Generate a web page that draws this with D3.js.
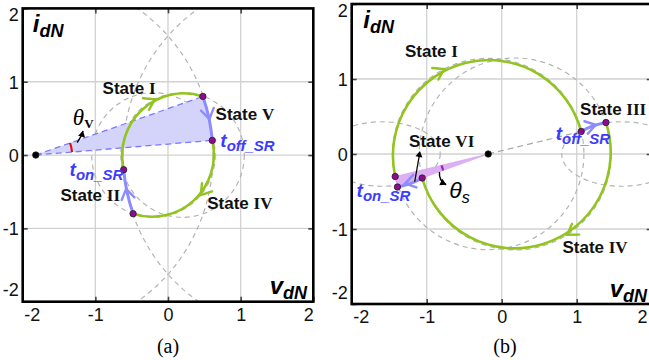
<!DOCTYPE html>
<html>
<head>
<meta charset="utf-8">
<script src="https://cdn.jsdelivr.net/npm/d3@7"></script>
<style>
  html, body { margin: 0; padding: 0; background: #fff; }
  svg { display: block; }
</style>
</head>
<body>
<svg id="fig" width="649" height="360"></svg>
<script>
// ---------- shared axis ticks ----------
const tickValues = [-2, -1, 0, 1, 2];

// ---------- panel (a): normalized state plane ----------
// guide circles: [cx, cy, rx, ry]
const aCircleI  = [0.2, 0, 0.85, 0.85];
const aCircleIV = [-0.2, 0, 0.85, 0.85];
const aCircleII = [1.82, 0, 2.44, 2.44];
const aCircleV  = [-1.82, 0, 2.44, 2.44];
// trajectory switching points
const aPole  = [-1.82, 0];
const aPtV   = [0.48, 0.80];   // State I -> State V
const aTOff  = [0.61, 0.20];   // t_off_SR
const aPtII  = [-0.48, -0.80]; // State IV -> State II
const aTOn   = [-0.61, -0.20]; // t_on_SR
const aThetaRadius = 0.5;

// ---------- panel (b) ----------
const bCircleI    = [-0.18, 0, 1.276, 1.276];
const bCircleIV   = [0.18, 0, 1.28, 1.28];
const bEllipseIII = [1.6, 0, 0.80, 0.43];
const bEllipseVI  = [-1.6, 0, 0.78, 0.43];
const bPole  = [-0.18, 0];
const bPtI   = [-1.42, -0.30]; // start of State I
const bTOff  = [1.06, 0.30];   // t_off_SR
const bPtIV  = [1.39, 0.42];   // State III -> State IV
const bPtVI  = [-1.06, -0.32]; // State IV -> State VI
const bTOn   = [-1.39, -0.44]; // t_on_SR
const bThetaRadius = 0.64;

// ---------- colours ----------
const GREEN = "#92c41f", BLUE_ARC = "#8c8cff", BLUE_TXT = "#3c3cff",
      DOT = "#8e0a8e", GUIDE = "#b4b4b4", GRID = "#d2d2d2";
const SANS = "'Liberation Sans', Arial, sans-serif";
const SERIF = "'Liberation Serif', 'Times New Roman', serif";

const svg = d3.select("#fig");
const defs = svg.append("defs");

const xA = d3.scaleLinear().domain([-2, 2]).range([22.7, 313.3]);
const yA = d3.scaleLinear().domain([-2, 2]).range([301.7, 8.4]);
const xB = d3.scaleLinear().domain([-2, 2]).range([351.7, 651.7]);
const yB = d3.scaleLinear().domain([-2, 2]).range([304, 4]);

function setupPanel(id, x, y) {
  const [left, right] = x.range();
  const [bottom, top] = y.range();
  defs.append("clipPath").attr("id", "clip-" + id)
    .append("rect").attr("x", left).attr("y", top)
    .attr("width", right - left).attr("height", bottom - top);

  const g = svg.append("g");
  const inner = tickValues.filter(v => Math.abs(v) < 2);
  const grid = g.append("g").attr("stroke", GRID).attr("stroke-width", 1.3);
  grid.selectAll("line.v").data(inner).join("line").attr("class", "v")
    .attr("x1", d => x(d)).attr("x2", d => x(d)).attr("y1", top).attr("y2", bottom);
  grid.selectAll("line.h").data(inner).join("line").attr("class", "h")
    .attr("y1", d => y(d)).attr("y2", d => y(d)).attr("x1", left).attr("x2", right);

  const plot = g.append("g").attr("clip-path", `url(#clip-${id})`);

  // inward ticks on all four sides
  const styleAxis = sel => {
    sel.select(".domain").remove();
    sel.selectAll(".tick line").attr("stroke", "#444").attr("stroke-width", 1.6);
  };
  const axB = g.append("g").attr("transform", `translate(0,${bottom})`)
    .call(d3.axisBottom(x).tickValues(tickValues).tickSize(-5).tickPadding(6)).call(styleAxis);
  const axL = g.append("g").attr("transform", `translate(${left},0)`)
    .call(d3.axisLeft(y).tickValues(tickValues).tickSize(-5).tickPadding(5)).call(styleAxis);
  g.append("g").attr("transform", `translate(0,${top})`)
    .call(d3.axisTop(x).tickValues(inner).tickSize(-5).tickFormat("")).call(styleAxis);
  g.append("g").attr("transform", `translate(${right},0)`)
    .call(d3.axisRight(y).tickValues(inner).tickSize(-5).tickFormat("")).call(styleAxis);

  const fmt = d => (d < 0 ? "-" : "") + Math.abs(d);
  axB.selectAll(".tick text").text(fmt)
    .attr("font-family", SANS).attr("font-size", 18).attr("fill", "#111")
    .attr("dy", null).attr("y", 19);
  axB.selectAll(".tick").filter(d => d === -2).select("text")
    .attr("text-anchor", "start").attr("x", 1);
  axB.selectAll(".tick").filter(d => d === 2).select("text")
    .attr("text-anchor", "end").attr("x", Math.min(0, 647 - x(2)));
  axL.selectAll(".tick text").text(fmt)
    .attr("font-family", SANS).attr("font-size", 18).attr("fill", "#111")
    .attr("dy", null).attr("y", 6.5).attr("x", -4);
  axL.selectAll(".tick").filter(d => d === 2).select("text").attr("y", 12);
  axL.selectAll(".tick").filter(d => d === -2).select("text").attr("y", -6);

  // frame
  g.append("rect").attr("x", left).attr("y", top)
    .attr("width", right - left).attr("height", bottom - top)
    .attr("fill", "none").attr("stroke", "#000").attr("stroke-width", 2.6);

  const labels = svg.append("g");
  return { x, y, plot, labels, kx: Math.abs(x(1) - x(0)), ky: Math.abs(y(1) - y(0)) };
}

// ---------- geometry helpers ----------
function angles(c, p0, p1) {
  const [cx, cy, rx, ry] = c;
  const t0 = Math.atan2((p0[1] - cy) / ry, (p0[0] - cx) / rx);
  let t1 = Math.atan2((p1[1] - cy) / ry, (p1[0] - cx) / rx);
  while (t1 > t0) t1 -= 2 * Math.PI;            // clockwise travel
  return [t0, t1];
}
function arcD(P, c, p0, p1) {
  const [t0, t1] = angles(c, p0, p1);
  const large = (t0 - t1) > Math.PI ? 1 : 0;
  return `M${P.x(p0[0])},${P.y(p0[1])} A${c[2] * P.kx},${c[3] * P.ky} 0 ${large} 1 ${P.x(p1[0])},${P.y(p1[1])}`;
}
function guide(P, c) {
  P.plot.append("ellipse")
    .attr("cx", P.x(c[0])).attr("cy", P.y(c[1]))
    .attr("rx", c[2] * P.kx).attr("ry", c[3] * P.ky)
    .attr("fill", "none").attr("stroke", GUIDE).attr("stroke-width", 1.2)
    .attr("stroke-dasharray", "5,4");
}
function trajectory(P, c, p0, p1, color, width, f) {
  P.plot.append("path").attr("d", arcD(P, c, p0, p1))
    .attr("fill", "none").attr("stroke", color).attr("stroke-width", width);
  const [t0, t1] = angles(c, p0, p1);
  const t = t0 + f * (t1 - t0);
  const [cx, cy, rx, ry] = c;
  const px = P.x(cx + rx * Math.cos(t)), py = P.y(cy + ry * Math.sin(t));
  const ang = Math.atan2(P.ky * ry * Math.cos(t), P.kx * rx * Math.sin(t)) * 180 / Math.PI;
  P.plot.append("path").attr("d", "M-9,-6.5 L1,0 L-9,6.5")
    .attr("transform", `translate(${px},${py}) rotate(${ang})`)
    .attr("fill", "none").attr("stroke", color).attr("stroke-width", 2.4)
    .attr("stroke-linecap", "round").attr("stroke-linejoin", "miter");
}
function dot(P, p, fill) {
  P.plot.append("circle").attr("cx", P.x(p[0])).attr("cy", P.y(p[1])).attr("r", 3.2)
    .attr("fill", fill || DOT).attr("stroke", "#222").attr("stroke-width", 0.8);
}
function thetaArc(P, pole, r, pa, pb, color) {
  const a0 = Math.atan2(pa[1] - pole[1], pa[0] - pole[0]);
  const a1 = Math.atan2(pb[1] - pole[1], pb[0] - pole[0]);
  const q0 = [pole[0] + r * Math.cos(a0), pole[1] + r * Math.sin(a0)];
  const q1 = [pole[0] + r * Math.cos(a1), pole[1] + r * Math.sin(a1)];
  P.plot.append("path")
    .attr("d", `M${P.x(q0[0])},${P.y(q0[1])} A${r * P.kx},${r * P.ky} 0 0 0 ${P.x(q1[0])},${P.y(q1[1])}`)
    .attr("fill", "none").attr("stroke", color).attr("stroke-width", 2.2);
}
function curvedArrow(P, from, ctrl, to, head) {
  const p = [from, ctrl, to].map(q => [P.x(q[0]), P.y(q[1])]);
  P.plot.append("path").attr("d", `M${p[0]} Q${p[1]} ${p[2]}`)
    .attr("fill", "none").attr("stroke", "#000").attr("stroke-width", 1.4);
  const ang = Math.atan2(p[2][1] - p[1][1], p[2][0] - p[1][0]) * 180 / Math.PI;
  P.plot.append("path").attr("d", `M0,0 L${-head},${-head * 0.6} L${-head},${head * 0.6} Z`)
    .attr("transform", `translate(${p[2]}) rotate(${ang})`).attr("fill", "#000");
}

// ---------- text helpers ----------
function stateLabel(P, pos, numeral) {
  const t = P.labels.append("text").attr("x", P.x(pos[0])).attr("y", P.y(pos[1]))
    .attr("font-size", 17).attr("font-weight", "bold").attr("fill", "#111");
  t.append("tspan").attr("font-family", SANS).text("State ");
  t.append("tspan").attr("font-family", SERIF).text(numeral);
}
function subLabel(P, pos, main, sub, o) {
  const t = P.labels.append("text").attr("x", P.x(pos[0])).attr("y", P.y(pos[1]))
    .attr("fill", o.fill).attr("font-family", o.family)
    .attr("font-weight", o.weight).attr("font-style", o.style);
  t.append("tspan").attr("font-size", o.size).text(main);
  t.append("tspan").attr("font-size", o.subSize).attr("dy", o.subDy)
    .attr("font-weight", o.subWeight || o.weight).attr("font-style", o.subStyle || o.style)
    .attr("font-family", o.subFamily || o.family).text(sub);
}
const axisLabelStyle = { fill: "#000", family: SANS, weight: "bold", style: "italic", size: 24, subSize: 18, subDy: 5 };
const tStyle = { fill: BLUE_TXT, family: SANS, weight: "bold", style: "italic", size: 19, subSize: 15, subDy: 4 };

// ======================= panel (a) =======================
const A = setupPanel("a", xA, yA);
[aCircleI, aCircleIV, aCircleII, aCircleV].forEach(c => guide(A, c));

// shaded sector swept during State V
A.plot.append("path")
  .attr("d", `M${A.x(aPole[0])},${A.y(aPole[1])} L${A.x(aPtV[0])},${A.y(aPtV[1])} ` +
             arcD(A, aCircleV, aPtV, aTOff).replace(/^M[^A]*/, "") + " Z")
  .attr("fill", "#d4d4fb").attr("stroke", "none");
[aPtV, aTOff].forEach(p => A.plot.append("line")
  .attr("x1", A.x(aPole[0])).attr("y1", A.y(aPole[1]))
  .attr("x2", A.x(p[0])).attr("y2", A.y(p[1]))
  .attr("stroke", "#7a7aff").attr("stroke-width", 1.3).attr("stroke-dasharray", "6,4"));

trajectory(A, aCircleI, aTOn, aPtV, GREEN, 2.6, 0.62);
trajectory(A, aCircleIV, aTOff, aPtII, GREEN, 2.6, 0.43);
trajectory(A, aCircleV, aPtV, aTOff, BLUE_ARC, 3, 0.5);
trajectory(A, aCircleII, aPtII, aTOn, BLUE_ARC, 3, 0.55);

thetaArc(A, aPole, aThetaRadius, aTOff, aPtV, "#e01010");
curvedArrow(A, [-1.25, 0.17], [-1.19, 0.25], [-1.17, 0.33], 6);

[aPtV, aTOff, aPtII, aTOn].forEach(p => dot(A, p));
dot(A, aPole, "#000");

stateLabel(A, [-0.90, 0.83], "I");
stateLabel(A, [0.655, 0.475], "V");
stateLabel(A, [0.54, -0.73], "IV");
stateLabel(A, [-1.48, -0.62], "II");
subLabel(A, [0.72, 0.11], "t", "off_SR", tStyle);
subLabel(A, [-1.355, -0.28], "t", "on_SR", tStyle);
subLabel(A, [-1.31, 0.41], "θ", "V",
  { fill: "#000", family: SERIF, weight: "normal", style: "italic", size: 23, subSize: 13, subDy: 3,
    subWeight: "bold", subStyle: "normal" });
subLabel(A, [-1.86, 1.68], "i", "dN", axisLabelStyle);
subLabel(A, [1.40, -1.89], "v", "dN", axisLabelStyle);

// ======================= panel (b) =======================
const B = setupPanel("b", xB, yB);
[bCircleI, bCircleIV, bEllipseIII, bEllipseVI].forEach(c => guide(B, c));

// shaded wedge for theta_s
B.plot.append("path")
  .attr("d", `M${B.x(bPole[0])},${B.y(bPole[1])} L${B.x(bPtI[0])},${B.y(bPtI[1])} L${B.x(bTOn[0])},${B.y(bTOn[1])} Z`)
  .attr("fill", "#dcb0f2").attr("stroke", "#d7a8ef").attr("stroke-width", 0.8);
B.plot.append("line")
  .attr("x1", B.x(bPole[0])).attr("y1", B.y(bPole[1]))
  .attr("x2", B.x(bTOff[0])).attr("y2", B.y(bTOff[1]))
  .attr("stroke", "#a8a8a8").attr("stroke-width", 1.2).attr("stroke-dasharray", "6,4");

trajectory(B, bCircleI, bPtI, bTOff, GREEN, 2.6, 0.42);
trajectory(B, bCircleIV, bPtIV, bPtVI, GREEN, 2.6, 0.41);
trajectory(B, bEllipseIII, bTOff, bPtIV, BLUE_ARC, 3, 0.6);
trajectory(B, bEllipseVI, bPtVI, bTOn, BLUE_ARC, 3, 0.65);

thetaArc(B, bPole, bThetaRadius, bTOn, bPtI, "#a020c0");
curvedArrow(B, [-0.83, -0.24], [-0.84, -0.36], [-0.74, -0.41], 6);
// pointer from the State VI segment up to its label
B.plot.append("line")
  .attr("x1", B.x(-1.16)).attr("y1", B.y(-0.37)).attr("x2", B.x(-1.095)).attr("y2", B.y(0.0))
  .attr("stroke", "#000").attr("stroke-width", 1.3);
B.plot.append("path").attr("d", "M0,0 L-6,-3.5 L-6,3.5 Z")
  .attr("transform", `translate(${B.x(-1.09)},${B.y(0.04)}) rotate(${Math.atan2(-(0.41) * B.ky, 0.07 * B.kx) * 180 / Math.PI})`)
  .attr("fill", "#000");

[bPtI, bTOff, bPtIV, bPtVI, bTOn].forEach(p => dot(B, p));
dot(B, bPole, "#000");

stateLabel(B, [-1.29, 1.30], "I");
stateLabel(B, [1.045, 0.52], "III");
stateLabel(B, [0.81, -1.325], "IV");
stateLabel(B, [-1.235, 0.09], "VI");
subLabel(B, [0.72, 0.185], "t", "off_SR", tStyle);
subLabel(B, [-1.935, -0.57], "t", "on_SR", tStyle);
subLabel(B, [-0.70, -0.59], "θ", "s",
  { fill: "#000", family: SANS, weight: "normal", style: "italic", size: 23, subSize: 16, subDy: 5 });
subLabel(B, [-1.845, 1.675], "i", "dN", axisLabelStyle);
subLabel(B, [1.44, -1.905], "v", "dN", axisLabelStyle);

// ---------- captions ----------
svg.append("text").attr("x", 168).attr("y", 353).attr("text-anchor", "middle")
  .attr("font-family", SERIF).attr("font-size", 20).text("(a)");
svg.append("text").attr("x", 505).attr("y", 353).attr("text-anchor", "middle")
  .attr("font-family", SERIF).attr("font-size", 20).text("(b)");
</script>
</body>
</html>
